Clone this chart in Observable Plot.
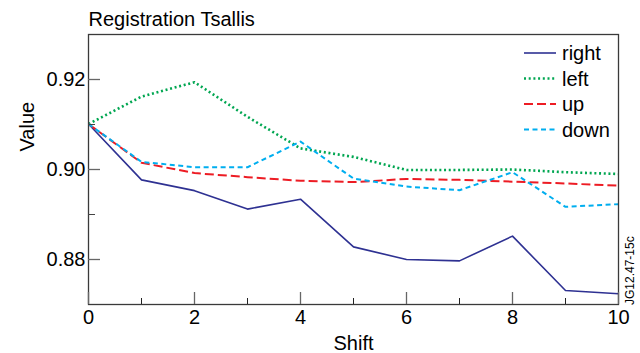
<!DOCTYPE html>
<html><head><meta charset="utf-8">
<script src="https://cdn.jsdelivr.net/npm/d3@7"></script>
<script src="https://cdn.jsdelivr.net/npm/@observablehq/plot@0.6"></script>
<style>
body{margin:0;background:#fff}
#chart{position:relative;width:640px;height:353px}
</style>
</head><body><div id="chart"></div>
<script>
const shift = [0,1,2,3,4,5,6,7,8,9,10];
const right = [0.9101,0.8977,0.8953,0.8912,0.8934,0.8828,0.8800,0.8797,0.8852,0.8731,0.8724];
const left  = [0.9101,0.9162,0.9194,0.9117,0.9047,0.9028,0.8999,0.8999,0.9000,0.8994,0.8990];
const up    = [0.9101,0.9015,0.8992,0.8983,0.8975,0.8972,0.8979,0.8977,0.8973,0.8969,0.8964];
const down  = [0.9101,0.9017,0.9005,0.9005,0.9062,0.8980,0.8962,0.8954,0.8994,0.8917,0.8923];
const seriesNames = ["right","left","up","down"];
const seriesValues = [right, left, up, down];
const seriesColors = ["#2e3192","#00a651","#ed1c24","#00aeef"];
const seriesDash = ["none","2,2.7","9,4","5,3.5"];
const seriesWidth = [1.6,2.6,2,2];
const yMajor = [0.88,0.90,0.92];
const yMinor = [0.89,0.91];
const xMajor = [0,2,4,6,8,10];
const xMinor = [1,3,5,7,9];
const titleText = "Registration Tsallis";
const xLabel = "Shift";
const yLabel = "Value";
const stamp = "JG12.47-15c";

const lineMarks = seriesNames.map((name, k) =>
  Plot.line(shift.map((x, i) => ({x, y: seriesValues[k][i]})), {
    x: "x", y: "y", stroke: seriesColors[k], strokeWidth: seriesWidth[k],
    strokeDasharray: seriesDash[k], strokeLinejoin: "round", strokeLinecap: "butt"
  })
);

const plot = Plot.plot({
  width: 640, height: 353,
  marginLeft: 88, marginRight: 22, marginTop: 34, marginBottom: 49,
  style: {fontFamily: "'Liberation Sans', Arial, sans-serif", fontSize: "20px", color: "#000", background: "#fff"},
  x: {domain: [0, 10]},
  y: {domain: [0.87, 0.93]},
  marks: [
    ...lineMarks,
    Plot.frame({stroke: "#3a3a3a", strokeWidth: 1.3}),
    Plot.axisX({ticks: xMajor, tickSize: -12, tickFormat: () => "", stroke: "#666", strokeWidth: 1.3, label: null}),
    Plot.axisX({ticks: xMinor, tickSize: -6, tickFormat: () => "", stroke: "#222", label: null}),
    Plot.axisX({ticks: xMajor, tickSize: 0, tickPadding: 5, fontSize: 20, label: null}),
    Plot.axisY({ticks: yMajor, tickSize: -12, tickFormat: () => "", stroke: "#666", strokeWidth: 1.3, label: null}),
    Plot.axisY({ticks: yMinor, tickSize: -7, tickFormat: () => "", stroke: "#444", label: null}),
    Plot.axisY({ticks: yMajor, tickSize: 0, tickPadding: 3, fontSize: 20, tickFormat: d3.format(".2f"), label: null}),
    Plot.text([titleText], {frameAnchor: "top-left", textAnchor: "start", lineAnchor: "middle", dy: -14.5, fontSize: 20}),
    Plot.text([xLabel], {frameAnchor: "bottom", lineAnchor: "middle", dy: 39, fontSize: 20}),
    Plot.text([yLabel], {frameAnchor: "left", lineAnchor: "middle", rotate: -90, dx: -61, dy: -18, fontSize: 20})
  ]
});
document.getElementById("chart").appendChild(plot);

// legend
const svg = d3.select(plot);
const lg = svg.append("g").attr("text-anchor", "start");
seriesNames.forEach((name, k) => {
  const y = 53 + k * 25.5;
  lg.append("line").attr("x1", 524).attr("x2", 556).attr("y1", y).attr("y2", y)
    .attr("stroke", seriesColors[k]).attr("stroke-width", seriesWidth[k])
    .attr("stroke-dasharray", seriesDash[k]);
  lg.append("text").attr("x", 562).attr("y", y + 7).attr("font-size", 20)
    .attr("text-anchor", "start").attr("fill", "#000").text(name);
});
svg.append("text").attr("transform", "translate(634,305) rotate(-90)")
  .attr("font-size", 12).attr("fill", "#000").attr("text-anchor", "start").text(stamp);
</script>
</body></html>
